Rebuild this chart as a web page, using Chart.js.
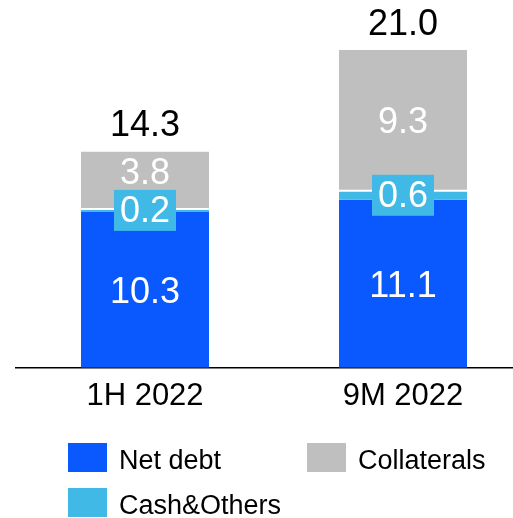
<!DOCTYPE html>
<html>
<head>
<meta charset="utf-8">
<script src="https://cdn.jsdelivr.net/npm/chart.js@4/dist/chart.umd.min.js"></script>
<style>
  html, body { margin: 0; padding: 0; background: #fff; overflow: hidden; width: 513px; height: 518px; }
  #wrap { width: 532px; height: 518px; }
</style>
</head>
<body>
<div id="wrap"><canvas id="c" width="532" height="518"></canvas></div>
<script>
const categories = ['1H 2022', '9M 2022'];
const seriesNames = ['Net debt', 'Cash&Others', 'Collaterals'];
const netDebt = [10.3, 11.1];
const cashOthers = [0.2, 0.6];
const collaterals = [3.8, 9.3];
const totals = [14.3, 21.0];
const seriesColors = ['#0A59FF', '#41B9E6', '#BFBFBF'];

const FONT = '"Liberation Sans", Arial, sans-serif';

const labelPlugin = {
  id: 'labels',
  afterDatasetsDraw(chart) {
    const ctx = chart.ctx;
    ctx.save();
    const size = 36;
    const cap = size * 0.716;
    ctx.font = size + 'px ' + FONT;
    ctx.textAlign = 'center';
    ctx.textBaseline = 'alphabetic';
    const nd = chart.getDatasetMeta(0).data;
    const cs = chart.getDatasetMeta(1).data;
    const co = chart.getDatasetMeta(2).data;
    for (let i = 0; i < categories.length; i++) {
      // Net debt
      let el = nd[i];
      let cy = (el.y + el.base) / 2;
      ctx.fillStyle = '#fff';
      ctx.fillText(netDebt[i].toFixed(1), el.x, cy + cap / 2);
      // Cash box
      el = cs[i];
      cy = (el.y + el.base) / 2;
      const t = cashOthers[i].toFixed(1);
      const w = ctx.measureText(t).width + 12;
      const h = 41;
      const boxTop = cy - h / 2;
      ctx.fillStyle = seriesColors[1];
      ctx.fillRect(el.x - w / 2, boxTop, w, h);
      ctx.fillStyle = '#fff';
      ctx.fillText(t, el.x, cy - 1 + cap / 2);
      // Collaterals
      el = co[i];
      let cy2 = (el.y + el.base) / 2;
      cy2 = Math.min(cy2, boxTop - 6 - cap / 2);
      ctx.fillStyle = '#fff';
      ctx.fillText(collaterals[i].toFixed(1), el.x, cy2 + cap / 2);
      // Total
      ctx.fillStyle = '#000';
      ctx.fillText(totals[i].toFixed(1), el.x, el.y - 15);
    }
    // Legend
    const lsize = 27;
    ctx.font = lsize + 'px ' + FONT;
    ctx.textAlign = 'left';
    const pos = [[68, 443], [68, 488], [307, 443]];
    for (let k = 0; k < seriesNames.length; k++) {
      const [x, y] = pos[k];
      ctx.fillStyle = seriesColors[k];
      ctx.fillRect(x, y, 39, 29);
      ctx.fillStyle = '#000';
      ctx.fillText(seriesNames[k], x + 51, y + 26);
    }
    ctx.restore();
  }
};

new Chart(document.getElementById('c'), {
  type: 'bar',
  data: {
    labels: categories,
    datasets: [
      { label: seriesNames[0], data: netDebt, backgroundColor: seriesColors[0] },
      { label: seriesNames[1], data: cashOthers, backgroundColor: seriesColors[1], borderColor: '#fff', borderWidth: { top: 1, left: 0, right: 0, bottom: 0 }, borderSkipped: false },
      { label: seriesNames[2], data: collaterals, backgroundColor: seriesColors[2], borderColor: '#fff', borderWidth: { top: 0, left: 0, right: 0, bottom: 1 }, borderSkipped: false }
    ]
  },
  options: {
    responsive: false,
    animation: false,
    layout: { padding: { left: 16, right: 0, top: 50, bottom: 93 } },
    categoryPercentage: 1,
    barPercentage: 128 / 258,
    plugins: { legend: { display: false }, tooltip: { enabled: false } },
    scales: {
      x: {
        stacked: true,
        grid: { display: false, drawTicks: false },
        border: { display: true, color: '#000', width: 1.5 },
        ticks: { color: '#000', font: { family: FONT, size: 31 }, padding: 10 }
      },
      y: {
        stacked: true,
        display: false,
        min: 0,
        max: 21
      }
    }
  },
  plugins: [labelPlugin]
});
</script>
</body>
</html>
